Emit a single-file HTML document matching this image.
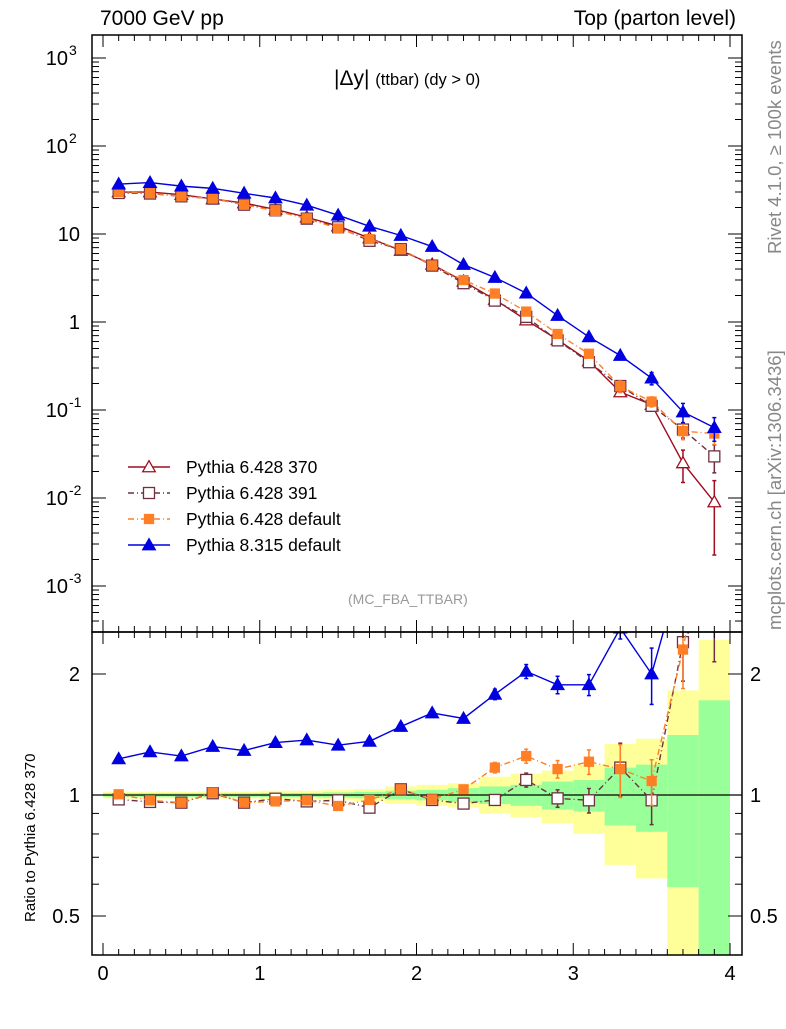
<!DOCTYPE html>
<html><head><meta charset="utf-8"><style>
body{margin:0;background:#fff}
svg text{font-family:"Liberation Sans",sans-serif}
</style></head><body>
<svg id="c" width="786" height="1024" xmlns="http://www.w3.org/2000/svg"></svg>
<script>
const binCenters=[0.1,0.3,0.5,0.7,0.9,1.1,1.3,1.5,1.7,1.9,2.1,2.3,2.5,2.7,2.9,3.1,3.3,3.5,3.7,3.9];
const ref370=[30,30,28,25,22.5,19,15.5,12.3,9,6.5,4.5,2.9,1.8,1.05,0.63,0.36,0.16,0.115,0.025,0.009];
const ref370Err=[0.01,0.01,0.01,0.01,0.01,0.01,0.01,0.01,0.01,0.02,0.02,0.02,0.03,0.04,0.05,0.06,0.08,0.1,0.4,0.75];
const ratio391=[0.975,0.961,0.957,1.01,0.957,0.979,0.964,0.97,0.93,1.033,0.972,0.952,0.972,1.09,0.981,0.97,1.17,0.97,2.4,3.3];
const err391=[0.01,0.01,0.01,0.01,0.01,0.01,0.01,0.01,0.01,0.02,0.02,0.02,0.03,0.04,0.05,0.07,0.15,0.13,0.2,0.35];
const ratioDef6=[1.004,0.97,0.957,1.013,0.957,0.964,0.97,0.939,0.972,1.033,0.975,1.033,1.17,1.25,1.16,1.21,1.16,1.083,2.3,6];
const errDef6=[0.01,0.01,0.01,0.01,0.01,0.01,0.01,0.01,0.01,0.02,0.02,0.02,0.03,0.04,0.05,0.07,0.15,0.13,0.2,0.25];
const ratioP8=[1.23,1.28,1.25,1.32,1.29,1.35,1.37,1.33,1.36,1.48,1.6,1.55,1.78,2.03,1.88,1.88,2.6,2.0,3.8,7];
const errP8=[0.01,0.01,0.01,0.01,0.01,0.01,0.01,0.01,0.01,0.02,0.02,0.02,0.03,0.04,0.05,0.06,0.06,0.16,0.25,0.3];
const yellowHi=[1.02,1.02,1.02,1.02,1.02,1.025,1.025,1.03,1.035,1.05,1.06,1.07,1.11,1.13,1.15,1.19,1.34,1.38,1.82,2.43];
const yellowLo=[0.98,0.98,0.98,0.98,0.98,0.975,0.975,0.97,0.965,0.95,0.94,0.93,0.9,0.88,0.85,0.8,0.67,0.62,0.3,0.3];
const greenHi=[1.01,1.01,1.01,1.01,1.01,1.012,1.012,1.015,1.018,1.025,1.03,1.04,1.05,1.06,1.08,1.09,1.17,1.19,1.41,1.72];
const greenLo=[0.99,0.99,0.99,0.99,0.99,0.988,0.988,0.985,0.982,0.975,0.97,0.96,0.95,0.94,0.92,0.91,0.84,0.81,0.59,0.3];
const mainTicks=[-3,-2,-1,0,1,2,3];
const xTicks=[0,1,2,3,4];

const NS="http://www.w3.org/2000/svg";
const svg=document.getElementById('c');
function mk(t,a,p){const e=document.createElementNS(NS,t);for(const k in a)e.setAttribute(k,a[k]);(p||svg).appendChild(e);return e;}
const L=92,R=742,T=35,M=632,B=955;
const X=v=>103+v*156.75;
const Y=v=>322-Math.log10(v)*88;
const RY=v=>795-Math.log10(v)*402;
const clipM=mk('clipPath',{id:'cm'});mk('rect',{x:L,y:T,width:R-L,height:M-T},clipM);
const clipR=mk('clipPath',{id:'cr'});mk('rect',{x:L,y:M,width:R-L,height:B-M},clipR);

const gb=mk('g',{'clip-path':'url(#cr)'});

binCenters.forEach((c,i)=>{
  const x0=X(c-0.1),w=X(c+0.1)-x0;
  const yb=mk('rect',{x:x0,y:RY(yellowHi[i]),width:w,height:RY(yellowLo[i])-RY(yellowHi[i]),fill:'#ffff99'},gb);
  
  const g=mk('rect',{x:x0,y:RY(greenHi[i]),width:w,height:RY(greenLo[i])-RY(greenHi[i]),fill:'#99ff99'},gb);
  
});
mk('line',{x1:L,x2:R,y1:RY(1),y2:RY(1),stroke:'#000','stroke-width':1.2});

const series=[
 {name:'pythia-6428-370',col:'#a00d1e',dash:'',m:'otri',vals:ref370,ratio:ref370.map(()=>1),err:ref370Err},
 {name:'pythia-6428-391',col:'#6e3040',dash:'6,3,1,3',m:'osq',vals:ref370.map((v,i)=>v*ratio391[i]),ratio:ratio391,err:err391},
 {name:'pythia-6428-default',col:'#ff7f27',dash:'6,3,1,3',m:'fsq',vals:ref370.map((v,i)=>v*ratioDef6[i]),ratio:ratioDef6,err:errDef6},
 {name:'pythia-8315-default',col:'#0000e0',dash:'',m:'ftri',vals:ref370.map((v,i)=>v*ratioP8[i]),ratio:ratioP8,err:errP8}];
function marker(g,m,x,y,col){
  let e;
  if(m.endsWith('tri')){const s=6.3;e=mk('polygon',{points:`${x},${y-s} ${x-s},${y+s*0.75} ${x+s},${y+s*0.75}`,fill:m[0]=='f'?col:'#fff',stroke:col,'stroke-width':1.3},g);}
  else {const s=m[0]=='f'?4.5:5.5;e=mk('rect',{x:x-s,y:y-s,width:2*s,height:2*s,fill:m[0]=='f'?col:'#fff',stroke:col,'stroke-width':1.3},g);}
  
}
function drawSeries(s,yf,vals,clip,rel){
  const g=mk('g',{'clip-path':clip});
  
  mk('polyline',{points:binCenters.map((c,i)=>X(c)+','+yf(vals[i])).join(' '),fill:'none',stroke:s.col,'stroke-width':1.4,'stroke-dasharray':s.dash},g);
  binCenters.forEach((c,i)=>{
    const e=s.err[i];
    if(s.name!=='pythia-6428-370'||!rel){
      const lo=Math.max(vals[i]*(1-e),1e-6),hi=vals[i]*(1+e);
      if(yf(lo)-yf(hi)>4){mk('line',{x1:X(c),x2:X(c),y1:yf(hi),y2:yf(lo),stroke:s.col,'stroke-width':1.5},g);
        mk('line',{x1:X(c)-2,x2:X(c)+2,y1:yf(hi),y2:yf(hi),stroke:s.col,'stroke-width':1.5},g);
        mk('line',{x1:X(c)-2,x2:X(c)+2,y1:yf(lo),y2:yf(lo),stroke:s.col,'stroke-width':1.5},g);}
    }
    marker(g,s.m,X(c),yf(vals[i]),s.col);
  });
}
series.forEach(s=>{drawSeries(s,Y,s.vals,'url(#cm)',false); if(s.name!=='pythia-6428-370') drawSeries(s,RY,s.ratio,'url(#cr)',true);});

mk('rect',{x:L,y:T,width:R-L,height:M-T,fill:'none',stroke:'#000','stroke-width':1.5});
mk('rect',{x:L,y:M,width:R-L,height:B-M,fill:'none',stroke:'#000','stroke-width':1.5});
for(let k=0;k<=41;k++){const v=k*0.1;if(X(v)>R)break;const big=k%10==0;const l=big?12:6;
  [T,M].forEach(y=>mk('line',{x1:X(v),x2:X(v),y1:y,y2:y+l,stroke:'#000'}));
  [M,B].forEach(y=>mk('line',{x1:X(v),x2:X(v),y1:y,y2:y-l,stroke:'#000'}));}
xTicks.forEach(v=>{const t=mk('text',{x:X(v),y:980,'font-size':20,'text-anchor':'middle'});t.textContent=v;
  });
for(let d=-4;d<=3;d++){for(let m=1;m<10;m++){const y=Y(m*Math.pow(10,d));if(y<T||y>M)continue;const l=m==1?14:7;
  mk('line',{x1:L,x2:L+l,y1:y,y2:y,stroke:'#000'});mk('line',{x1:R,x2:R-l,y1:y,y2:y,stroke:'#000'});}}
const labs={'-3':['10','-3'],'-2':['10','-2'],'-1':['10','-1'],'0':['1',''],'1':['10',''],'2':['10','2'],'3':['10','3']};
mainTicks.forEach(d=>{const t=mk('text',{x:d==0?80:(labs[d][1]?68:80),y:Y(Math.pow(10,d))+7,'font-size':20,'text-anchor':'end'});t.textContent=labs[d][0];
  
  if(labs[d][1]){const s=mk('text',{x:69,y:Y(Math.pow(10,d))-3,'font-size':14});s.textContent=labs[d][1];}});
[0.4,0.5,0.6,0.7,0.8,0.9,1,2].forEach(v=>{const y=RY(v);const l=(v==0.5||v==1||v==2)?14:7;
  mk('line',{x1:L,x2:L+l,y1:y,y2:y,stroke:'#000'});mk('line',{x1:R,x2:R-l,y1:y,y2:y,stroke:'#000'});});
[['2',2],['1',1],['0.5',0.5]].forEach(([s,v])=>{
  const a=mk('text',{x:80,y:RY(v)+7,'font-size':20,'text-anchor':'end'});a.textContent=s;
  
  const b=mk('text',{x:750,y:RY(v)+7,'font-size':20});b.textContent=s;
  });
const lg=mk('g',{});
const legNames=['Pythia 6.428 370','Pythia 6.428 391','Pythia 6.428 default','Pythia 8.315 default'];
series.forEach((s,i)=>{const y=467+i*26;
  const g=mk('g',{},lg);
  mk('line',{x1:128,x2:170,y1:y,y2:y,stroke:s.col,'stroke-width':1.4,'stroke-dasharray':s.dash},g);
  marker(g,s.m,149,y,s.col);
  const t=mk('text',{x:186,y:y+6,'font-size':17.5},g);t.textContent=legNames[i];});
</script>
<div style="position:absolute;left:0;top:0;width:786px;height:1024px;pointer-events:none;font-family:'Liberation Sans',sans-serif">
<div style="position:absolute;left:100px;top:7px;font-size:21px">7000 GeV pp</div>
<div style="position:absolute;right:50px;top:7px;font-size:21px">Top (parton level)</div>
<div style="position:absolute;left:334px;top:67px;font-size:21px;white-space:nowrap">|Δy| <span style="font-size:16.5px">(ttbar) (dy &gt; 0)</span></div>
<div style="position:absolute;left:348px;top:591px;font-size:14px;color:#999">(MC_FBA_TTBAR)</div>
<div style="position:absolute;left:764px;top:36px;font-size:18.5px;color:#888;transform-origin:0 0;transform:translate(0,218px) rotate(-90deg);white-space:nowrap">Rivet 4.1.0, ≥ 100k events</div>
<div style="position:absolute;left:764px;top:344px;font-size:18.5px;color:#888;transform-origin:0 0;transform:translate(0,286px) rotate(-90deg);white-space:nowrap">mcplots.cern.ch [arXiv:1306.3436]</div>
<div style="position:absolute;left:22px;top:690px;font-size:15px;transform-origin:0 0;transform:translate(0,232px) rotate(-90deg);white-space:nowrap">Ratio to Pythia 6.428 370</div>
</div>
</body></html>
